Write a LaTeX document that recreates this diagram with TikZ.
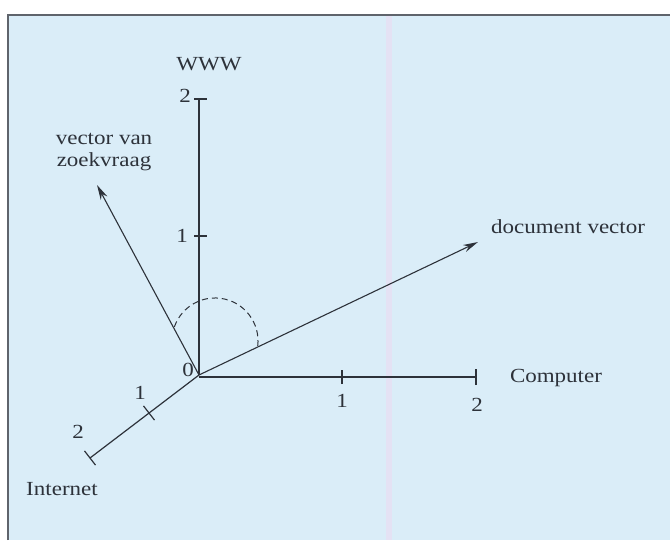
\documentclass[tikz,border=0pt]{standalone}
\usepackage{fontspec}
\setmainfont{Liberation Serif}
\usetikzlibrary{arrows.meta}
\definecolor{bg}{RGB}{218,237,248}
\definecolor{ink}{RGB}{45,50,58}
\definecolor{framec}{RGB}{95,100,108}
\definecolor{stripe}{RGB}{228,226,244}
\begin{document}
\begin{tikzpicture}[x=1pt,y=-1pt,
  lbl/.style={inner sep=0pt, text=ink, xscale=1.15, font=\fontsize{20}{22}\selectfont},
  axis/.style={draw=ink, line width=1.4pt},
  vec/.style={draw=ink, line width=1.1pt, -{Stealth[length=15pt,width=7.5pt]}},
  tck/.style={draw=ink, line width=1.2pt},
  angarc/.style={draw=ink, line width=1pt, dash pattern=on 6pt off 4pt}]
\useasboundingbox (0,0) rectangle (670,543);
\fill[white] (0,0) rectangle (670,543);
\fill[bg] (8,15) rectangle (670,540);
\fill[stripe] (386,15) rectangle (392,540);
\draw[framec, line width=1.2pt] (8,540) -- (8,15) -- (670,15);

% points
\coordinate (O) at (199,375);
\coordinate (Y1) at (199,236);
\coordinate (Y2) at (199,99);
\coordinate (C1) at (342,377);
\coordinate (C2) at (476,377);
\coordinate (CO) at (199,377);
\coordinate (I1) at (149,413);
\coordinate (I2) at (90,458);
\coordinate (Q) at (97,185);
\coordinate (D) at (478,242);
\coordinate (I1a) at (143.5,405.9);
\coordinate (I1b) at (154.5,420.1);
\coordinate (I2a) at (84.5,450.9);
\coordinate (I2b) at (95.5,465.1);
\coordinate (A1) at (257.7,346.2);

% axes
\draw[axis] (O) -- (Y2);
\draw[axis] (CO) -- (C2);
\draw[axis, line width=1.2pt] (O) -- (I2);

% ticks
\draw[tck] ([xshift=-5pt]Y1) -- ([xshift=8pt]Y1);
\draw[tck] ([xshift=-5pt]Y2) -- ([xshift=8pt]Y2);
\draw[tck] ([yshift=-7pt]C1) -- ([yshift=7pt]C1);
\draw[tck] ([yshift=-8pt]C2) -- ([yshift=8pt]C2);
\draw[tck] (I1a) -- (I1b);
\draw[tck] (I2a) -- (I2b);

% vectors
\draw[vec] (O) -- (Q);
\draw[vec] (O) -- (D);

% angle arc
\draw[angarc] (A1) arc[start angle=7, end angle=-165, radius=43];

% labels
\node[lbl] (www) at (209,64) {WWW};
\node[lbl] (ly2) at (185,96) {2};
\node[lbl] (ly1) at (182,236) {1};
\node[lbl] (l0) at (188,370) {0};
\node[lbl] (lc1) at (342,401) {1};
\node[lbl] (lc2) at (477,405) {2};
\node[lbl] (li1) at (140,393) {1};
\node[lbl] (li2) at (78,432) {2};
\node[lbl] (comp) at (556,378) {Computer};
\node[lbl] (inet) at (62,489) {Internet};
\node[lbl] (doc) at (568,227) {document vector};
\node[lbl, align=center] (qry) at (104,152) {vector van\\zoekvraag};
\end{tikzpicture}
\end{document}
